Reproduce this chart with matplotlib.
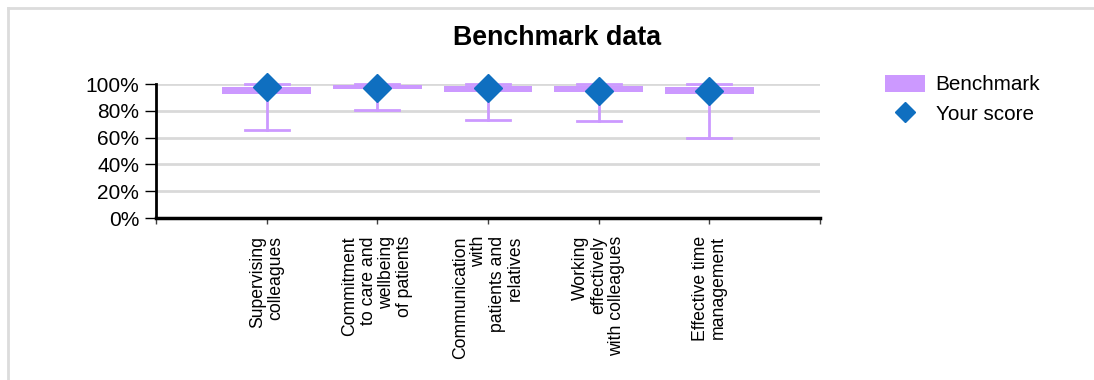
import matplotlib
matplotlib.use("Agg")
import matplotlib.pyplot as plt
from matplotlib.patches import Patch
from matplotlib.lines import Line2D
from matplotlib.ticker import PercentFormatter

plt.rcParams['font.family'] = ['Liberation Sans', 'DejaVu Sans']

# benchmark spread and own score per competency (percent)
categories = ["Supervising\ncolleagues",
              "Commitment\nto care and\nwellbeing\nof patients",
              "Communication\nwith\npatients and\nrelatives",
              "Working\neffectively\nwith colleagues",
              "Effective time\nmanagement"]
bench_low = [65.5, 80.5, 73, 72.5, 60]
bench_q1 = [92.5, 96.5, 94.3, 94, 92.8]
bench_q3 = [97.7, 99.5, 98.7, 98.6, 97.7]
bench_high = [100, 100, 100, 100, 100]
your_score = [98, 97, 97, 94.5, 94.5]

purple = '#CC99FF'
blue = '#0F6FC0'

fig = plt.figure(figsize=(10.94, 3.80), dpi=100)
ax = fig.add_axes([156/1094, 1 - 218/380, 664/1094, 134/380])

x = list(range(1, len(categories) + 1))

# whiskers and caps
for xi, lo, q1, q3, hi in zip(x, bench_low, bench_q1, bench_q3, bench_high):
    ax.plot([xi, xi], [lo, q1], color=purple, lw=2, zorder=2)
    ax.plot([xi, xi], [q3, hi], color=purple, lw=2, zorder=2)
    ax.plot([xi - 0.2, xi + 0.2], [lo, lo], color=purple, lw=2, zorder=2, clip_on=False)
    ax.plot([xi - 0.2, xi + 0.2], [hi, hi], color=purple, lw=2, zorder=2, clip_on=False)

# interquartile box
ax.bar(x, [b - a for a, b in zip(bench_q1, bench_q3)], bottom=bench_q1,
       width=0.8, color=purple, zorder=3)

ax.plot(x, your_score, linestyle='none', marker='D', markersize=14,
        color=blue, zorder=4, clip_on=False)

ax.set_xlim(0, 6)
ax.set_ylim(0, 100)
ax.set_yticks(range(0, 101, 20))
ax.yaxis.set_major_formatter(PercentFormatter(decimals=0))
ax.set_xticks(range(0, 7))
ax.set_xticklabels([''] + categories + [''], rotation=90, fontsize=12.7,
                   multialignment='right', va='top', ha='center', linespacing=1.1)
ax.tick_params(axis='y', labelsize=15, length=8, width=1, pad=4)
ax.tick_params(axis='x', length=4, width=1, color='#404040', pad=9)

ax.grid(axis='y', color='#d9d9d9', lw=2, zorder=0)
ax.set_axisbelow(True)
for s in ['top', 'right']:
    ax.spines[s].set_visible(False)
ax.spines['left'].set_linewidth(2)
ax.spines['bottom'].set_linewidth(2.5)

fig.suptitle('Benchmark data', fontsize=19.3, fontweight='bold', x=557/1094, y=1 - 25/380, va='top')

handles = [Patch(facecolor=purple, edgecolor='none', label='Benchmark'),
           Line2D([], [], linestyle='none', marker='D', markersize=10.5, color=blue, label='Your score')]
fig.legend(handles=handles, loc='upper left', bbox_to_anchor=(885/1094, 1 - 75/380),
           frameon=False, fontsize=14.9, handlelength=1.95, handleheight=0.85,
           handletextpad=0.5, labelspacing=0.5, borderaxespad=0, borderpad=0)

# outer frame lines along the top and left edge
fig.add_artist(Line2D([8/1094, 1], [1 - 8/380, 1 - 8/380], color='#dcdcdc', lw=2))
fig.add_artist(Line2D([8/1094, 8/1094], [0, 1 - 8/380], color='#dcdcdc', lw=2))

fig.savefig('out.png', dpi=100)
